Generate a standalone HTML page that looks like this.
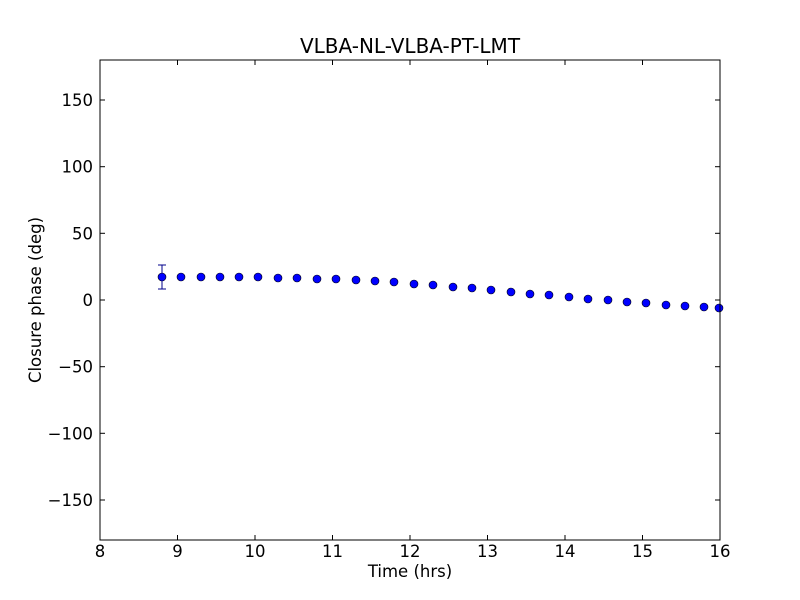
<!DOCTYPE html>
<html><head><meta charset="utf-8"><style>body{margin:0;background:#fff}svg{display:block}</style></head><body>
<svg width="800" height="600" xmlns="http://www.w3.org/2000/svg" font-family="DejaVu Sans, Liberation Sans, sans-serif">
<rect width="800" height="600" fill="#fff"/>
<text x="410" y="53" font-size="20" text-anchor="middle">VLBA-NL-VLBA-PT-LMT</text>
<g stroke="#000" stroke-width="1">
<line x1="162" y1="265" x2="162" y2="289" stroke="#00008b"/>
<line x1="158" y1="265" x2="166" y2="265" stroke="#00008b"/>
<line x1="158" y1="289" x2="166" y2="289" stroke="#00008b"/>
</g>
<g fill="#0000ff" stroke="#000" stroke-width="0.6">
<circle cx="162" cy="277" r="4"/><circle cx="181" cy="277" r="4"/><circle cx="201" cy="277" r="4"/><circle cx="220" cy="277" r="4"/><circle cx="239" cy="277" r="4"/><circle cx="258" cy="277" r="4"/><circle cx="278" cy="278" r="4"/><circle cx="297" cy="278" r="4"/><circle cx="317" cy="279" r="4"/><circle cx="336" cy="279" r="4"/><circle cx="356" cy="280" r="4"/><circle cx="375" cy="281" r="4"/><circle cx="394" cy="282" r="4"/><circle cx="414" cy="284" r="4"/><circle cx="433" cy="285" r="4"/><circle cx="453" cy="287" r="4"/><circle cx="472" cy="288" r="4"/><circle cx="491" cy="290" r="4"/><circle cx="511" cy="292" r="4"/><circle cx="530" cy="294" r="4"/><circle cx="549" cy="295" r="4"/><circle cx="569" cy="297" r="4"/><circle cx="588" cy="299" r="4"/><circle cx="608" cy="300" r="4"/><circle cx="627" cy="302" r="4"/><circle cx="646" cy="303" r="4"/><circle cx="666" cy="305" r="4"/><circle cx="685" cy="306" r="4"/><circle cx="704" cy="307" r="4"/><circle cx="719" cy="308" r="4"/>
</g>
<rect x="100" y="60" width="620" height="480" fill="none" stroke="#000"/>
<g stroke="#000">
<line x1="177.5" y1="540" x2="177.5" y2="535"/><line x1="255" y1="540" x2="255" y2="535"/><line x1="332.5" y1="540" x2="332.5" y2="535"/><line x1="410" y1="540" x2="410" y2="535"/><line x1="487.5" y1="540" x2="487.5" y2="535"/><line x1="565" y1="540" x2="565" y2="535"/><line x1="642.5" y1="540" x2="642.5" y2="535"/>
<line x1="177.5" y1="60" x2="177.5" y2="65"/><line x1="255" y1="60" x2="255" y2="65"/><line x1="332.5" y1="60" x2="332.5" y2="65"/><line x1="410" y1="60" x2="410" y2="65"/><line x1="487.5" y1="60" x2="487.5" y2="65"/><line x1="565" y1="60" x2="565" y2="65"/><line x1="642.5" y1="60" x2="642.5" y2="65"/>
<line x1="100" y1="100" x2="105" y2="100"/><line x1="100" y1="166.7" x2="105" y2="166.7"/><line x1="100" y1="233.3" x2="105" y2="233.3"/><line x1="100" y1="300" x2="105" y2="300"/><line x1="100" y1="366.7" x2="105" y2="366.7"/><line x1="100" y1="433.3" x2="105" y2="433.3"/><line x1="100" y1="500" x2="105" y2="500"/>
<line x1="720" y1="100" x2="715" y2="100"/><line x1="720" y1="166.7" x2="715" y2="166.7"/><line x1="720" y1="233.3" x2="715" y2="233.3"/><line x1="720" y1="300" x2="715" y2="300"/><line x1="720" y1="366.7" x2="715" y2="366.7"/><line x1="720" y1="433.3" x2="715" y2="433.3"/><line x1="720" y1="500" x2="715" y2="500"/>
</g>
<g font-size="16.5" text-anchor="middle">
<text x="100" y="557">8</text><text x="177.5" y="557">9</text><text x="255" y="557">10</text><text x="332.5" y="557">11</text><text x="410" y="557">12</text><text x="487.5" y="557">13</text><text x="565" y="557">14</text><text x="642.5" y="557">15</text><text x="720" y="557">16</text>
</g>
<g font-size="16.5" text-anchor="end">
<text x="93" y="106">150</text><text x="93" y="172.7">100</text><text x="93" y="239.3">50</text><text x="93" y="306">0</text><text x="93" y="372.7">−50</text><text x="93" y="439.3">−100</text><text x="93" y="506">−150</text>
</g>
<text x="410" y="577" font-size="16.5" text-anchor="middle">Time (hrs)</text>
<text transform="translate(41,300) rotate(-90)" font-size="16.5" text-anchor="middle">Closure phase (deg)</text>
</svg>
</body></html>
